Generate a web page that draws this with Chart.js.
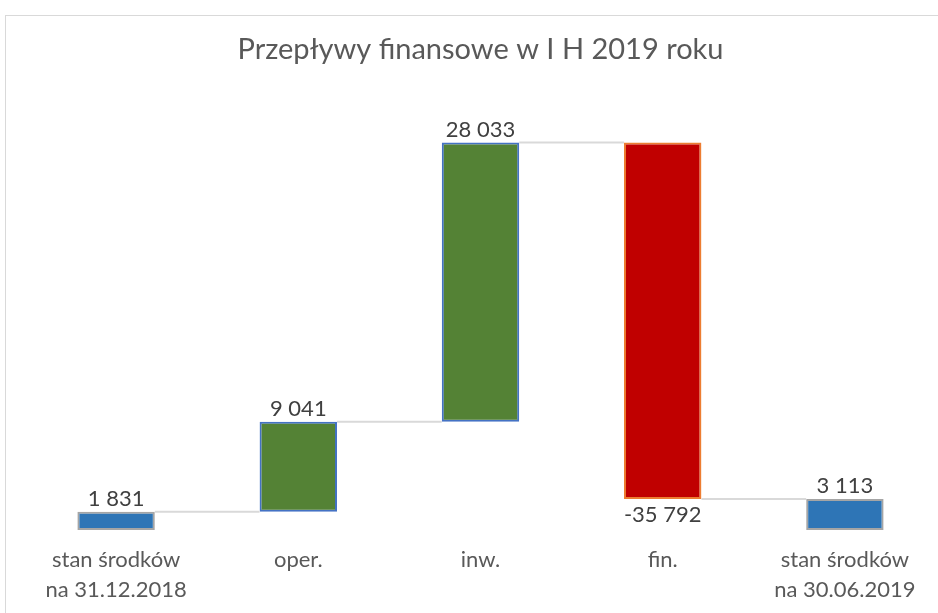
<!DOCTYPE html>
<html>
<head>
<meta charset="utf-8">
<script src="https://cdn.jsdelivr.net/npm/chart.js@4"></script>
<style>
  html, body { margin: 0; padding: 0; background: #fff; overflow: hidden; }
  #frame { position: absolute; left: 5px; top: 15px; width: 1000px; height: 700px; border: 1px solid #d9d9d9; }
  #wrap { position: absolute; left: 0; top: 0; width: 938px; height: 613px; }
</style>
</head>
<body>
<div id="frame"></div>
<div id="wrap"><canvas id="waterfallChart" width="938" height="613"></canvas></div>
<script>
const LABELS = [
  ['stan środków', 'na 31.12.2018'],
  'oper.',
  'inw.',
  'fin.',
  ['stan środków', 'na 30.06.2019'],
];
const VALUES = [1831, 9041, 28033, -35792, 3113];
const IS_TOTAL = [true, false, false, false, true];

const BLUE = '#2e75b6';
const GREEN = '#548235';
const RED = '#c00000';
const TEXT_COLOR = '#595959';
const FONT = 'Lato, "Open Sans", sans-serif';

const fmt = v => {
  const s = Math.abs(v).toString().replace(/\B(?=(\d{3})+(?!\d))/g, ' ');
  return (v < 0 ? '-' : '') + s;
};

// floating ranges for the waterfall
let running = 0;
const ranges = VALUES.map((v, i) => {
  if (IS_TOTAL[i]) {
    running = v;
    return [0, v];
  }
  const start = running;
  running += v;
  return [start, running];
});

const fillColors = VALUES.map((v, i) => (IS_TOTAL[i] ? BLUE : v < 0 ? RED : GREEN));
const borderColors = VALUES.map((v, i) => (IS_TOTAL[i] ? '#a5a5a5' : v < 0 ? '#ed7d31' : '#4472c4'));

const waterfallExtras = {
  id: 'waterfallExtras',
  afterDatasetsDraw(chart) {
    const { ctx } = chart;
    const meta = chart.getDatasetMeta(0);
    const y = chart.scales.y;

    // connector lines
    ctx.save();
    ctx.strokeStyle = '#d9d9d9';
    ctx.lineWidth = 2;
    for (let i = 0; i < ranges.length - 1; i++) {
      const a = meta.data[i];
      const b = meta.data[i + 1];
      const level = y.getPixelForValue(ranges[i][1]);
      ctx.beginPath();
      ctx.moveTo(a.x + a.width / 2, level);
      ctx.lineTo(b.x - b.width / 2, level);
      ctx.stroke();
    }

    // value labels
    ctx.fillStyle = '#404040';
    ctx.font = '22px ' + FONT;
    ctx.textAlign = 'center';
    meta.data.forEach((bar, i) => {
      const v = VALUES[i];
      if (v < 0) {
        ctx.textBaseline = 'top';
        ctx.fillText(fmt(v), bar.x, y.getPixelForValue(ranges[i][1]) + 5);
      } else {
        ctx.textBaseline = 'bottom';
        ctx.fillText(fmt(v), bar.x, y.getPixelForValue(ranges[i][1]) - 2);
      }
    });
    ctx.restore();
  },
};

document.addEventListener('DOMContentLoaded', () => {
  const ctx = document.getElementById('waterfallChart').getContext('2d');
  new Chart(ctx, {
    type: 'bar',
    data: {
      labels: LABELS,
      datasets: [
        {
          data: ranges,
          backgroundColor: fillColors,
          borderColor: borderColors,
          borderWidth: 2,
          borderSkipped: false,
          barPercentage: 0.425,
          categoryPercentage: 1,
        },
      ],
    },
    options: {
      responsive: false,
      animation: false,
      layout: { padding: { left: 25, right: 2, top: 32, bottom: 8 } },
      plugins: {
        legend: { display: false },
        tooltip: { enabled: false },
        title: {
          display: true,
          text: 'Przepływy finansowe w I H 2019 roku',
          color: TEXT_COLOR,
          font: { family: FONT, size: 29, weight: 'normal' },
          padding: { top: 0, bottom: 10 },
        },
      },
      scales: {
        x: {
          grid: { display: false },
          border: { display: false },
          afterFit: scale => {
            scale.height = 75;
          },
          ticks: {
            color: TEXT_COLOR,
            font: { family: FONT, size: 22, lineHeight: 1.36 },
            padding: 7,
            maxRotation: 0,
            autoSkip: false,
          },
        },
        y: {
          display: false,
          min: 0,
          max: 45500,
        },
      },
    },
    plugins: [waterfallExtras],
  });
});
</script>
</body>
</html>
